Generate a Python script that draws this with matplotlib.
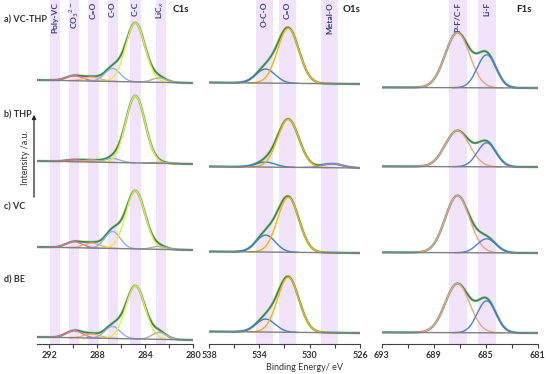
import numpy as np
import matplotlib
matplotlib.use("Agg")
import matplotlib.pyplot as plt

plt.rcParams['font.family'] = ['Lato', 'DejaVu Sans']

W, H = 546, 374

# sample labels (top to bottom)
rows = ["a) VC-THP", "b) THP", "c) VC", "d) BE"]

# ---- C1s ----
c1s_ticks = [292, 288, 284, 280]
c1s_bands = ["Poly-VC", "CO$_3$$^{2-}$", "C=O", "C-O", "C-C", "LiC$_x$"]
c1s_band_pos = [291.5, 289.9, 288.3, 286.7, 284.8, 282.7]
c1s_centers = [289.9, 288.4, 286.7, 284.8, 282.8]
c1s_fwhm = [1.6, 1.6, 1.5, 1.9, 1.4]
c1s_heights = [[5, 2, 6, 7],      # CO3
               [4, 2, 5, 4],      # C=O
               [13, 4, 17, 12],   # C-O
               [59, 67, 58, 53],  # C-C
               [4.5, 1, 3, 7]]    # LiCx
c1s_colors = ["#e86b86", "#f2a877", "#8fb2ea", "#ecec3c", "#a9b3a3"]

# ---- O1s ----
o1s_ticks = [538, 534, 530, 526]
o1s_bands = ["O-C-O", "C=O", "Metal-O"]
o1s_band_pos = [533.6, 531.8, 528.4]
o1s_centers = [533.5, 531.7, 528.2]
o1s_fwhm = [1.8, 2.0, 1.9]
o1s_heights = [[14, 5, 17, 13],   # O-C-O
               [55, 48, 55, 55],  # C=O
               [0, 4, 0, 0]]      # Metal-O
o1s_colors = ["#3d7fc6", "#f7b500", "#a77ad6"]

# ---- F1s ----
f1s_ticks = [693, 689, 685, 681]
f1s_bands = ["P-F/C-F", "Li-F"]
f1s_band_pos = [687.15, 684.9]
f1s_centers = [687.2, 684.95]
f1s_fwhm = [2.2, 1.7]
f1s_heights = [[55, 36, 57, 49],  # P-F/C-F
               [33, 24, 14, 32]]  # Li-F
f1s_colors = ["#f2a084", "#4d80d2"]

panels = [
    dict(name="C1s", xlim=(293, 280), ticks=c1s_ticks, bands=c1s_bands,
         band_pos=c1s_band_pos, band_w=0.85, centers=c1s_centers,
         fwhm=c1s_fwhm, heights=c1s_heights, colors=c1s_colors,
         offsets=[261, 180, 94, 4], tilt=3.0,
         box=(37, 193), title_x=181),
    dict(name="O1s", xlim=(538, 526), ticks=o1s_ticks, bands=o1s_bands,
         band_pos=o1s_band_pos, band_w=1.35, centers=o1s_centers,
         fwhm=o1s_fwhm, heights=o1s_heights, colors=o1s_colors,
         offsets=[260, 176, 91, 11], tilt=1.5,
         box=(209, 360), title_x=352),
    dict(name="F1s", xlim=(693, 681), ticks=f1s_ticks, bands=f1s_bands,
         band_pos=f1s_band_pos, band_w=1.4, centers=f1s_centers,
         fwhm=f1s_fwhm, heights=f1s_heights, colors=f1s_colors,
         offsets=[256, 177, 91, 11], tilt=0.6,
         box=(382, 538), title_x=524),
]


def gauss(x, c, h, fwhm):
    s = fwhm / 2.3548
    return h * np.exp(-0.5 * ((x - c) / s) ** 2)


fig = plt.figure(figsize=(W / 100, H / 100), dpi=100)
ax_bottom = 344  # px from top where the energy axes sit

for p in panels:
    x0, x1 = p["box"]
    ax = fig.add_axes([x0 / W, 1 - ax_bottom / H, (x1 - x0) / W, ax_bottom / H])
    ax.set_xlim(*p["xlim"])
    ax.set_ylim(0, ax_bottom)

    # highlight bands and their labels
    for lab, pos in zip(p["bands"], p["band_pos"]):
        ax.axvspan(pos - p["band_w"] / 2, pos + p["band_w"] / 2,
                   color="#f1e3f9", lw=0, zorder=0)
        ax.text(pos, 0.995, lab, transform=ax.get_xaxis_transform(),
                rotation=90, ha="center", va="top", fontsize=6,
                fontweight="bold", color="#2e3d8a")

    x = np.linspace(p["xlim"][1], p["xlim"][0], 600)
    lo, hi = p["xlim"][1], p["xlim"][0]
    for r in range(4):
        off = p["offsets"][r]
        bg = off + p["tilt"] * (x - lo) / (hi - lo)
        comps = [gauss(x, c, hs[r], fw) for c, hs, fw
                 in zip(p["centers"], p["heights"], p["fwhm"])]
        env = bg + np.sum(comps, axis=0)
        ax.plot(x, env, color="#a9cbea", lw=2.0, zorder=2)
        ax.plot(x, env, color="#3f8a2c", lw=1.2, zorder=3)
        for comp, col in zip(comps, p["colors"]):
            m = comp > 0.05
            if m.any():
                ax.plot(x[m], bg[m] + comp[m], color=col, lw=1.0, zorder=4)
        ax.plot(x, bg, color="#808080", lw=1.0, zorder=5)

    for s in ["top", "left", "right"]:
        ax.spines[s].set_visible(False)
    ax.spines["bottom"].set_color("#404040")
    ax.set_yticks([])
    ax.set_xticks(p["ticks"])
    ax.set_xticks(np.arange(p["xlim"][1], p["xlim"][0] + 0.1, 2), minor=True)
    ax.tick_params(axis="x", which="both", direction="out", length=3,
                   width=0.8, color="#404040", labelsize=6.5, pad=2,
                   labelcolor="#333333")
    for t in ax.get_xticklabels():
        t.set_fontweight("bold")
    ax.patch.set_alpha(0)

    fig.text(p["title_x"] / W, 1 - 10 / H, p["name"], ha="center",
             va="center", fontsize=7, fontweight="bold", color="#222222")

# sample labels
for lab, ypx in zip(rows, [20, 115, 207, 280]):
    fig.text(4 / W, 1 - ypx / H, lab, ha="left", va="center", fontsize=6.5,
             fontweight="bold", color="#333333")

# intensity arrow
fig.add_artist(matplotlib.patches.FancyArrowPatch(
    (34 / W, 1 - 200 / H), (34 / W, 1 - 112 / H),
    transform=fig.transFigure, arrowstyle="-|>", mutation_scale=6,
    color="#222222", lw=0.9))
fig.text(25 / W, 1 - 158 / H, "Intensity /a.u.", rotation=90, ha="center",
         va="center", fontsize=6.5, color="#333333")

fig.text(305 / W, 1 - 368 / H, "Binding Energy/ eV", ha="center",
         va="center", fontsize=6.5, color="#333333")

fig.savefig("out.png", dpi=100)
